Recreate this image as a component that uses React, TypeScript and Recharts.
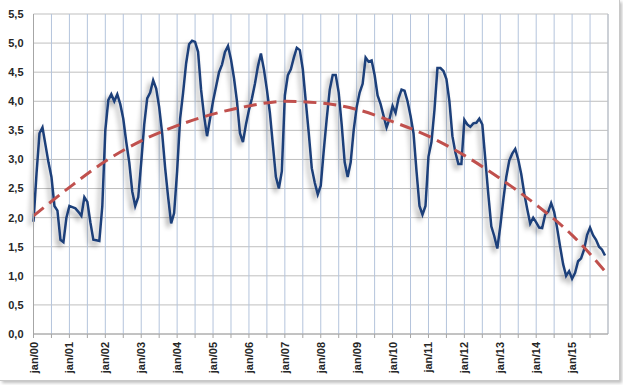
import React from "react";
import { LineChart, Line, XAxis, YAxis, CartesianGrid, ReferenceLine } from "recharts";

// Monthly values, jan/00 .. dec/15
const values: number[] = [
  1.93, 2.75, 3.45, 3.55, 3.25, 2.95, 2.7, 2.2, 2.12, 1.62, 1.58, 2.0,
  2.2, 2.18, 2.16, 2.1, 2.03, 2.35, 2.27, 1.92, 1.62, 1.61, 1.6, 2.2,
  3.5, 4.02, 4.12, 4.0, 4.12, 3.95, 3.7, 3.3, 2.95, 2.45, 2.2, 2.35,
  2.95, 3.6, 4.05, 4.15, 4.36, 4.22, 3.9, 3.45, 2.85, 2.35, 1.9, 2.08,
  2.8, 3.7, 4.15, 4.65, 4.98, 5.04, 5.02, 4.85, 4.2, 3.75, 3.4, 3.7,
  4.0, 4.25, 4.5, 4.63, 4.85, 4.95, 4.72, 4.4, 4.0, 3.45, 3.3, 3.6,
  3.85, 4.05, 4.3, 4.6, 4.82, 4.55, 4.2, 3.8, 3.25, 2.7, 2.5, 2.8,
  4.1, 4.45, 4.55, 4.75, 4.92, 4.88, 4.55, 4.0, 3.45, 2.85, 2.6, 2.4,
  2.55, 3.15, 3.7, 4.2, 4.45, 4.45, 4.15, 3.6, 2.95, 2.7, 2.95, 3.5,
  3.9, 4.15, 4.3, 4.75, 4.68, 4.7, 4.45, 4.1, 3.95, 3.75, 3.55, 3.7,
  3.92, 3.8, 4.05, 4.2, 4.18, 4.0, 3.75, 3.45, 2.8, 2.2, 2.05, 2.2,
  3.05, 3.3, 3.85, 4.57, 4.57, 4.52, 4.38, 4.0, 3.4, 3.12, 2.92, 2.92,
  3.68, 3.6, 3.56, 3.62, 3.63, 3.7, 3.6, 3.0, 2.4, 1.85, 1.68, 1.47,
  1.85, 2.3, 2.7, 2.98, 3.1, 3.18, 3.0, 2.75, 2.42, 2.15, 1.9, 2.0,
  1.92, 1.83, 1.82, 2.05, 2.1, 2.25, 2.1, 1.82, 1.5, 1.2, 1.0, 1.08,
  0.95, 1.05, 1.25, 1.3, 1.45, 1.7, 1.83, 1.7, 1.62, 1.5, 1.45, 1.35,
];

// Trend line (at these month indices)
const trendMonths: number[] = [0, 12, 24, 36, 48, 60, 72, 84, 96, 108, 120, 132, 144, 156, 168, 180, 191];
const trendValues: number[] = [2.03, 2.52, 2.97, 3.32, 3.58, 3.78, 3.92, 4.0, 3.97, 3.86, 3.65, 3.4, 3.07, 2.67, 2.22, 1.7, 1.08];

const yearLabels: string[] = [
  "jan/00", "jan/01", "jan/02", "jan/03", "jan/04", "jan/05", "jan/06", "jan/07",
  "jan/08", "jan/09", "jan/10", "jan/11", "jan/12", "jan/13", "jan/14", "jan/15",
];

const yTicks: number[] = [0, 0.5, 1, 1.5, 2, 2.5, 3, 3.5, 4, 4.5, 5, 5.5];

const data = values.map((v, i) => {
  const ti = trendMonths.indexOf(i);
  return { m: i, value: v, trend: ti >= 0 ? trendValues[ti] : null };
});

const xTicks: number[] = [];
for (let i = 0; i <= 186; i += 6) xTicks.push(i);

const FONT = "'Liberation Sans', Arial, sans-serif";

const XTick = (props: any) => {
  const { x, y, payload } = props;
  const m = payload.value as number;
  if (m % 12 !== 0) return null;
  const label = yearLabels[m / 12];
  if (!label) return null;
  const tx = x + 4;
  return (
    <text
      x={tx}
      y={y}
      transform={`rotate(-90, ${tx}, ${y})`}
      textAnchor="end"
      fontFamily={FONT}
      fontSize={11}
      fontWeight="bold"
      fill="#262626"
    >
      {label}
    </text>
  );
};

export default function App() {
  return (
    <div style={{ position: "relative", width: 623, height: 385, background: "#fff", overflow: "hidden" }}>
      <style>{`
        body { margin: 0; }
        g.blueLine path, path.blueLine { filter: url(#lineShadow); }
      `}</style>
      <svg width={0} height={0} style={{ position: "absolute" }}>
        <defs>
          <filter id="lineShadow" x="-10%" y="-10%" width="125%" height="130%">
            <feGaussianBlur in="SourceAlpha" stdDeviation="2.5" />
            <feOffset dx="-3" dy="4" result="off" />
            <feComponentTransfer in="off" result="shadow">
              <feFuncA type="linear" slope="0.35" />
            </feComponentTransfer>
            <feMerge>
              <feMergeNode in="shadow" />
              <feMergeNode in="SourceGraphic" />
            </feMerge>
          </filter>
        </defs>
      </svg>
      <div
        style={{
          position: "absolute",
          left: 0,
          top: 0,
          width: 620,
          height: 381,
          borderRight: "1px solid #C8C8C8",
          borderBottom: "1px solid #C8C8C8",
          boxShadow: "2px 2px 3px rgba(0,0,0,0.25)",
          boxSizing: "border-box",
        }}
      />
      <div style={{ position: "absolute", left: 0, top: 0 }}>
        <LineChart
          width={623}
          height={385}
          data={data}
          margin={{ top: 14, right: 15, bottom: 0, left: 0 }}
        >
          <CartesianGrid vertical={false} stroke="#BFBFBF" strokeWidth={1} />
          <CartesianGrid horizontal={false} stroke="#B4C4DC" strokeWidth={1} />
          <XAxis
            dataKey="m"
            type="number"
            domain={[0, 192]}
            ticks={xTicks}
            interval={0}
            height={51}
            tick={<XTick />}
            tickSize={4}
            tickMargin={4}
            tickLine={{ stroke: "#A6A6A6" }}
            axisLine={{ stroke: "#A6A6A6" }}
          />
          <YAxis
            domain={[0, 5.5]}
            ticks={yTicks}
            width={33.5}
            tickSize={0}
            tickMargin={10}
            tickLine={false}
            axisLine={{ stroke: "#A6A6A6" }}
            tickFormatter={(v: number) => v.toFixed(1).replace(".", ",")}
            tick={{ fontFamily: FONT, fontSize: 11, fontWeight: "bold", fill: "#262626" }}
          />
          <ReferenceLine x={192} stroke="#BFBFBF" />
          <Line
            className="blueLine"
            dataKey="value"
            type="linear"
            stroke="#1F3F7A"
            strokeWidth={2.5}
            dot={false}
            activeDot={false}
            isAnimationActive={false}
          />
          <Line
            dataKey="trend"
            type="monotone"
            connectNulls
            stroke="#C0504D"
            strokeWidth={3}
            strokeDasharray="13 7"
            dot={false}
            activeDot={false}
            isAnimationActive={false}
          />
        </LineChart>
      </div>
    </div>
  );
}
